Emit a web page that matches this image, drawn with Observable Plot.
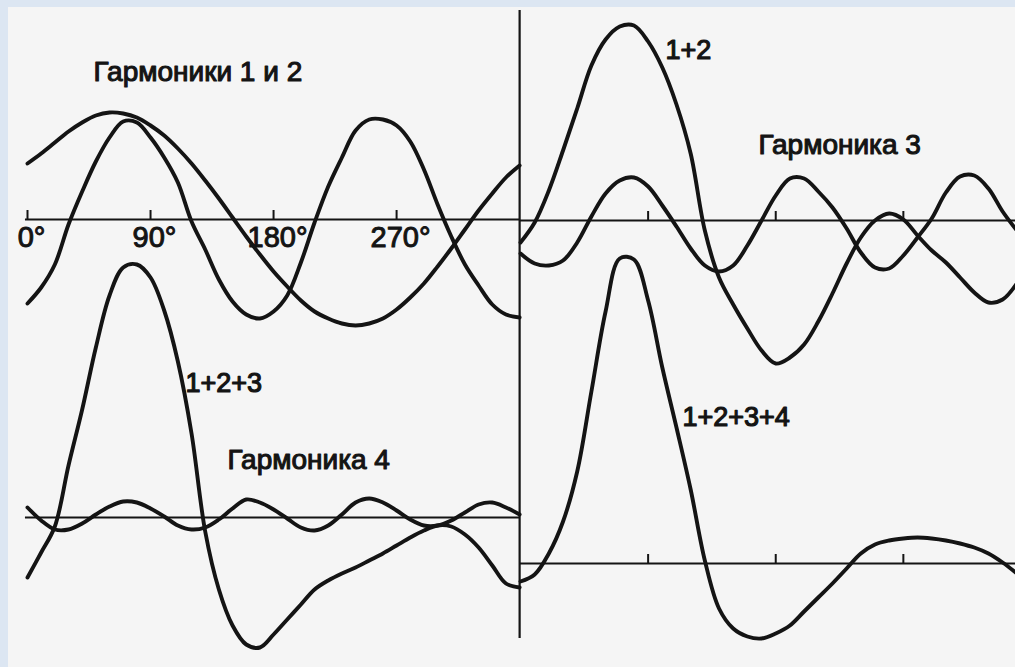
<!DOCTYPE html>
<html>
<head>
<meta charset="utf-8">
<script src="https://cdn.jsdelivr.net/npm/d3@7"></script>
<script src="https://cdn.jsdelivr.net/npm/@observablehq/plot@0.6"></script>
<style>
  html, body { margin: 0; padding: 0; background: #dce6f2; }
  #frame { position: relative; width: 1015px; height: 667px; overflow: hidden; background: #dce6f2; }
  #paper { position: absolute; left: 8px; top: 7px; right: 0; bottom: 0; background: #f5f5f5; }
  #frame svg { position: absolute; left: 0; top: 0; }
  g[aria-label="sum-label"] text { letter-spacing: 3px; }
</style>
</head>
<body>
<div id="frame"><div id="paper"></div></div>
<script>
// ---- angles (degrees) ----
const anglesFull  = [0,10,20,30,40,50,60,70,80,90,100,110,120,130,140,150,160,170,180,190,200,210,220,230,240,250,260,270,280,290,300,310,320,330,340,350,360];
const anglesRight = [0,10,20,30,40,50,60,70,80,90,100,110,120,130,140,150,160,170,180,190,200,210,220,230,240,250,260,270,280,290,300,310,320,330,340,350];
const tickAngles  = [0, 90, 180, 270];

// ---- panel 1: harmonics 1 and 2 ----
const harmonic1 = [56,66,77,88,97,104,107,106,102,94,84,71,56,39,21,2,-17,-35,-52,-67,-81,-92,-99,-104,-106,-104,-99,-90,-78,-64,-47,-29,-10,9,26,42,54];
const harmonic2 = [-84,-68,-45,-5,28,58,82,98,97,82,62,37,-2,-30,-60,-82,-95,-99,-92,-76,-43,-3,33,62,89,100,100,94,78,50,15,-17,-45,-66,-85,-95,-98];

// ---- panel 2: 1+2 and harmonic 3 ----
const sum12     = [-22,-2,30,70,112,155,181,194,195,179,153,116,67,-10,-57,-84,-108,-130,-143,-137,-124,-101,-73,-43,-17,0,7,1,-15,-30,-42,-57,-72,-82,-79,-63];
const harmonic3 = [-33,-43,-45,-40,-22,4,27,40,43,34,15,-6,-28,-45,-51,-45,-25,0,25,42,42,29,13,-8,-32,-47,-48,-35,-17,2,28,44,45,32,9,-10];

// ---- panel 3: 1+2+3 and harmonic 4 ----
const sum123    = [-60,-35,-9,52,108,170,222,250,253,240,207,156,84,-14,-72,-108,-127,-130,-117,-102,-87,-72,-63,-56,-50,-43,-36,-28,-20,-13,-8,-9,-17,-30,-48,-66,-70];
const harmonic4 = [10,-3,-12,-12,-6,3,11,16,15,9,1,-8,-12,-10,-2,9,18,15,8,-1,-10,-13,-8,3,15,19,15,7,-2,-8,-8,-3,5,13,15,10,3];

// ---- panel 4: 1+2+3+4 ----
const sum1234   = [-18,-11,10,42,92,172,252,305,304,263,196,136,74,3,-45,-65,-73,-75,-70,-62,-48,-34,-20,-5,10,19,23,25,26,25,23,20,16,10,1,-10];

// ---- label texts ----
const titleH12 = "Гармоники 1 и 2";
const titleH3  = "Гармоника 3";
const titleH4  = "Гармоника 4";
const label12  = "1+2";
const label123 = "1+2+3";
const label1234 = "1+2+3+4";

const table = (angles, values) => angles.map((a, i) => ({a, v: values[i]}));

const W = 1015, H = 667;
const INK = "#141414";
const FONT = "Liberation Sans, Arial, Helvetica, sans-serif";

function panel(x0, k, axisY, marks) {
  return Plot.plot({
    width: W, height: H,
    marginTop: 0, marginRight: 0, marginBottom: 0, marginLeft: 0,
    style: {background: "transparent", overflow: "visible"},
    x: {type: "linear", domain: [0, 360], range: [x0, x0 + 360 * k], axis: null},
    y: {type: "linear", domain: [-100, 100], range: [axisY + 100, axisY - 100], axis: null},
    marks
  });
}

const curve = (data) => Plot.line(data, {x: "a", y: "v", curve: "catmull-rom", stroke: INK, strokeWidth: 3.9, strokeLinecap: "round", strokeLinejoin: "round"});
const harmLabel = (t, a, v) => Plot.text([t], {x: () => a, y: () => v, text: d => d, textAnchor: "start", lineAnchor: "bottom", fontFamily: FONT, fontSize: 28, fill: INK, stroke: INK, strokeWidth: 1.1});
const sumLabel = (t, a, v) => Plot.text([t], {x: () => a, y: () => v, text: d => d, textAnchor: "start", lineAnchor: "bottom", fontFamily: FONT, fontSize: 27, fill: INK, stroke: INK, strokeWidth: 1.2, ariaLabel: "sum-label"});

const frame = document.getElementById("frame");

// top-left: harmonics 1 and 2
frame.appendChild(panel(27, 1.367, 219, [
  Plot.ruleY([0], {x1: -1.5, x2: 360, stroke: INK, strokeWidth: 2.2}),
  Plot.ruleX(tickAngles, {x: d => d, y1: () => 0, y2: () => 9, stroke: INK, strokeWidth: 2}),
  Plot.text(tickAngles, {x: d => d, y: () => -27, text: d => d + "°", dx: 4, textAnchor: "middle", lineAnchor: "bottom", fontFamily: FONT, fontSize: 29, fill: INK, stroke: INK, strokeWidth: 1}),
  Plot.ruleX([360], {x: d => d, y1: () => -419, y2: () => 209, stroke: INK, strokeWidth: 2.2}),
  curve(table(anglesFull, harmonic1)),
  curve(table(anglesFull, harmonic2)),
  harmLabel(titleH12, 48.3, 139)
]));

// top-right: 1+2 and harmonic 3
frame.appendChild(panel(520, 1.418, 220, [
  Plot.ruleY([0], {x1: 0, x2: 350, stroke: INK, strokeWidth: 2.2}),
  Plot.ruleX(tickAngles.slice(1), {x: d => d, y1: () => 0, y2: () => 9, stroke: INK, strokeWidth: 2}),
  curve(table(anglesRight, sum12)),
  curve(table(anglesRight, harmonic3)),
  sumLabel(label12, 102.3, 162),
  harmLabel(titleH3, 167.8, 67)
]));

// bottom-left: 1+2+3 and harmonic 4
frame.appendChild(panel(27, 1.367, 517, [
  Plot.ruleY([0], {x1: -1.5, x2: 360, stroke: INK, strokeWidth: 2.2}),
  curve(table(anglesFull, sum123)),
  curve(table(anglesFull, harmonic4)),
  sumLabel(label123, 115.6, 126),
  harmLabel(titleH4, 146.3, 49)
]));

// bottom-right: 1+2+3+4
frame.appendChild(panel(520, 1.418, 563, [
  Plot.ruleY([0], {x1: 0, x2: 350, stroke: INK, strokeWidth: 2.2}),
  Plot.ruleX(tickAngles.slice(1), {x: d => d, y1: () => 0, y2: () => 9, stroke: INK, strokeWidth: 2}),
  curve(table(anglesRight, sum1234)),
  sumLabel(label1234, 114.2, 138)
]));
</script>
</body>
</html>
